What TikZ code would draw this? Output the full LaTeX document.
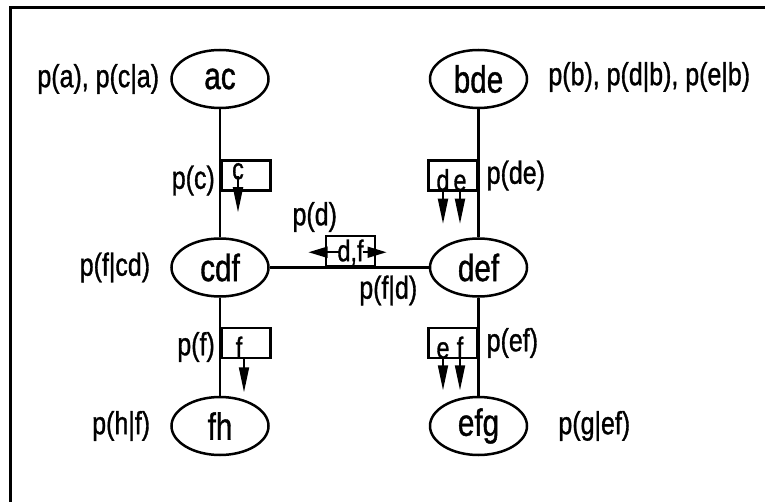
\documentclass[tikz,border=0pt]{standalone}
\usepackage{fontspec}
\setmainfont{Liberation Sans}[FakeStretch=0.78, FakeBold=1]
\usetikzlibrary{arrows.meta, positioning, shapes.geometric}

\begin{document}
\begin{tikzpicture}[x=1pt, y=1pt, node distance=159pt,
    clique/.style={draw, ellipse, line width=2.5pt, minimum width=97pt, minimum height=58pt, inner sep=0pt, font=\fontsize{38}{40}\selectfont},
    sepbox/.style={draw, rectangle, line width=2.5pt, minimum width=49pt, minimum height=30pt, inner sep=0pt},
    sepvar/.style={inner sep=0pt, anchor=base, font=\fontsize{30}{34}\selectfont},
    prob/.style={inner sep=0pt, font=\fontsize{32}{36}\selectfont},
    link/.style={line width=2.5pt},
    msg/.style={line width=1.8pt, -{Triangle[length=25pt, width=10pt]}},
    msgh/.style={line width=1.8pt, -{Triangle[length=19pt, width=11pt]}}]
    \useasboundingbox (0,0) rectangle (765,501);
    \clip (0,0) rectangle (765,501);
    % outer frame
    \draw[line width=3pt] (10,-10) -- (10,493.7) -- (780,493.7);

    % cliques
    \node[clique] (ac) at (220,422) {ac};
    \node[clique, right=159pt of ac] (bde) {bde};
    \node[clique, below=128pt of ac] (cdf) {cdf};
    \node[clique, right=159pt of cdf] (def) {def};
    \node[clique, below=98pt of cdf] (fh) {fh};
    \node[clique, right=159pt of fh] (efg) {efg};

    \draw[link] (ac) -- (cdf);
    \draw[link] (bde) -- (def);
    \draw[link] (cdf) -- (def);
    \draw[link] (cdf) -- (fh);
    \draw[link] (def) -- (efg);

    % separators
    \node[sepbox, fill=white, anchor=north west] (sepc) at ([yshift=-50pt]ac.south) {};
    \node[sepbox, fill=white, anchor=north east] (sepde) at ([yshift=-50pt]bde.south) {};
    \node[sepbox, fill=white, anchor=south west] (sepdf) at ([xshift=55pt]cdf.east) {};
    \node[sepbox, fill=white, anchor=north west] (sepf) at ([yshift=-29pt]cdf.south) {};
    \node[sepbox, fill=white, anchor=north east] (sepef) at ([yshift=-29pt]def.south) {};
    \draw[link] (cdf) -- (def);

    \node[sepvar] (vc) at ([xshift=18pt, yshift=-20pt]sepc.north west) {c};
    \node[sepvar] (vd1) at ([xshift=16pt, yshift=1pt]sepde.south west) {d};
    \node[sepvar] (ve1) at ([xshift=33pt, yshift=1pt]sepde.south west) {e};
    \node[sepvar] (vdf) at ([yshift=-10pt]sepdf.center) {d,f};
    \node[sepvar] (vf) at ([xshift=19pt, yshift=1pt]sepf.south west) {f};
    \node[sepvar] (ve2) at ([xshift=16pt, yshift=1pt]sepef.south west) {e};
    \node[sepvar] (vf2) at ([xshift=33pt, yshift=1pt]sepef.south west) {f};

    % messages
    \draw[msg] ([yshift=3pt]vc.base) -- ++(0,-36);
    \draw[msg] (vd1.base) -- ++(0,-33);
    \draw[msg] (ve1.base) -- ++(0,-33);
    \draw[msg] ([xshift=5pt]vf.base) -- ++(0,-34);
    \draw[msg] (ve2.base) -- ++(0,-32);
    \draw[msg] (vf2.base) -- ++(0,-32);
    \draw[msgh] ([xshift=-12pt, yshift=9pt]vdf.base) -- ++(-30,0);
    \draw[msgh] ([xshift=12pt, yshift=9pt]vdf.base) -- ++(24,0);

    % potentials
    \node[prob, anchor=east] (pac) at ([xshift=-11pt]ac.west) {p(a), p(c|a)};
    \node[prob, anchor=west] (pbde) at ([xshift=20pt, yshift=2pt]bde.east) {p(b), p(d|b), p(e|b)};
    \node[prob, anchor=east] (pc) at ([xshift=-5pt, yshift=-5pt]sepc.west) {p(c)};
    \node[prob, anchor=west] (pde) at ([xshift=8pt]sepde.east) {p(de)};
    \node[prob] (pd) at ([xshift=-10pt, yshift=18pt]sepdf.north west) {p(d)};
    \node[prob, anchor=east] (pfcd) at ([xshift=-20pt]cdf.west) {p(f|cd)};
    \node[prob] (pfd) at ([xshift=12pt, yshift=-23pt]sepdf.south east) {p(f|d)};
    \node[prob, anchor=east] (pf) at ([xshift=-5pt, yshift=-4pt]sepf.west) {p(f)};
    \node[prob, anchor=west] (pef) at ([xshift=8pt]sepef.east) {p(ef)};
    \node[prob, anchor=east] (phf) at ([xshift=-20pt]fh.west) {p(h|f)};
    \node[prob, anchor=west] (pgef) at ([xshift=30pt]efg.east) {p(g|ef)};
\end{tikzpicture}
\end{document}
